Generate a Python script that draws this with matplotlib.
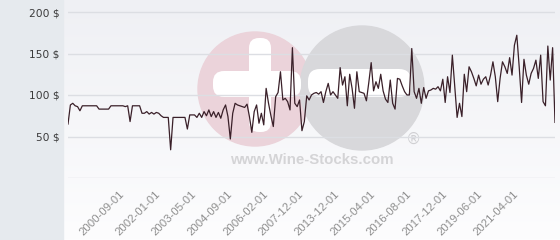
import matplotlib
matplotlib.use("Agg")
import matplotlib.pyplot as plt
import numpy as np
from matplotlib.patches import Circle, FancyBboxPatch, Rectangle

# ---- data ----
prices = [
    65, 88, 90, 87, 86, 81, 87, 87, 87, 87, 87, 87, 87,
    83, 83, 83, 83, 83,
    87, 87, 87, 87, 87, 87, 86, 87,
    68,
    87, 87, 87, 87,
    78, 78, 80, 77, 79, 77, 79, 78, 75, 73,
    73, 73,
    34,
    73, 73, 73, 73, 73, 73,
    59,
    76, 76, 76,
    73, 78, 73, 80, 75, 82, 74, 80, 73, 79, 72, 82, 88, 74, 47,
    78, 90, 88, 87, 86, 85, 89, 74, 55, 80, 88, 66, 78, 64,
    108, 90, 75, 62, 98, 103, 128, 94, 96, 92, 82,
    157, 90, 86, 94, 57, 68,
    99, 94, 100, 102, 103, 101, 104, 91, 104, 114, 100, 104, 100, 96, 133, 112, 122, 87, 125, 108,
    84, 128, 104, 103, 102, 93, 115, 139, 105, 116, 108, 125, 105, 95, 91, 118, 90, 83, 120, 119,
    111, 104, 100, 100, 156,
    104, 96, 108, 90, 109, 96, 105, 106, 108, 107, 110, 105, 119, 91, 122, 103,
    148, 110, 73, 90, 74, 125, 104, 134, 128, 120, 111, 124, 113, 119, 122, 112, 124, 140, 122, 92,
    120, 140, 134, 126, 145, 124, 160, 172, 134, 91, 143, 124,
    113, 126, 132, 142, 120, 148, 92, 87, 159, 118, 157, 67,
]
date_labels = ["2000-09-01", "2002-01-01", "2003-05-01", "2004-09-01", "2006-02-01",
               "2007-12-01", "2013-12-01", "2015-04-01", "2016-08-01", "2017-12-01",
               "2019-06-01", "2021-04-01"]
y_ticks = [50, 100, 150, 200]
grid_levels = [0, 50, 100, 150, 200]

W, H = 560, 240
fig = plt.figure(figsize=(W / 100, H / 100), dpi=100)

# ---- background layer (pixel coordinates, y down) ----
bg = fig.add_axes([0, 0, 1, 1], zorder=0)
bg.set_xlim(0, W)
bg.set_ylim(H, 0)
bg.axis("off")
top = np.array([239, 240, 244]) / 255
bot = np.array([253, 253, 254]) / 255
t = np.linspace(0, 1, 240)[:, None, None]
grad = top * (1 - t) + bot * t
bg.imshow(grad, extent=[63, W, H, 0], aspect="auto", zorder=0)
bg.add_patch(Rectangle((0, 0), 63, H, color="#e6eaee", zorder=1))

# watermark
bg.add_patch(Circle((255, 89), 57, color="#ebd3da", zorder=2))
bg.add_patch(Circle((362, 88), 62, color="#d8d8db", zorder=3))
bg.add_patch(FancyBboxPatch((249, 38), 22, 94, boxstyle="round,pad=0,rounding_size=10",
                            color="white", zorder=4, linewidth=0))
bg.add_patch(FancyBboxPatch((213, 71), 88, 26, boxstyle="round,pad=0,rounding_size=11",
                            color="white", zorder=4, linewidth=0))
bg.add_patch(FancyBboxPatch((308, 69), 103, 28, boxstyle="round,pad=0,rounding_size=12",
                            color="white", zorder=4, linewidth=0))
bg.text(312, 160, "www.Wine-Stocks.com", ha="center", va="center", fontsize=10.8,
        fontweight="bold", family="Liberation Sans", color="#d4d4d6", zorder=5)
bg.text(413, 139, "®", ha="center", va="center", fontsize=11, family="DejaVu Sans",
        color="#d0d0d3", zorder=5)

# ---- main chart ----
x0, x1 = 68, 555
ytop, ybot = 0, 178
ax = fig.add_axes([x0 / W, (H - ybot) / H, (x1 - x0) / W, (ybot - ytop) / H], zorder=1)
ax.patch.set_alpha(0)
n = len(prices)
xs = np.arange(n)
ax.set_xlim(0, n - 1)
ymax = 200 + 12 / (166 / 200)
ax.set_ylim(0, ymax)
for g in grid_levels:
    ax.axhline(g, color="#dcdee3", lw=1.0, zorder=1)
ax.plot(xs, prices, color="#3a2029", lw=0.9, zorder=3)

for s in ax.spines.values():
    s.set_visible(False)
ax.set_yticks(y_ticks)
ax.set_yticklabels([f"{v} $" for v in y_ticks])
ax.tick_params(axis="y", length=0, pad=6.3, labelsize=7.7, labelcolor="#3a3a3a")

tick_pos = list(range(23, n, 15))[:len(date_labels)]
ax.set_xticks(tick_pos)
ax.set_xticklabels(date_labels, rotation=45, ha="right", va="center",
                   rotation_mode="anchor", fontsize=8.2, color="#8e8e8e",
                   family="Liberation Sans")
ax.tick_params(axis="x", length=0, pad=10.5)

fig.savefig("out.png", dpi=100)
